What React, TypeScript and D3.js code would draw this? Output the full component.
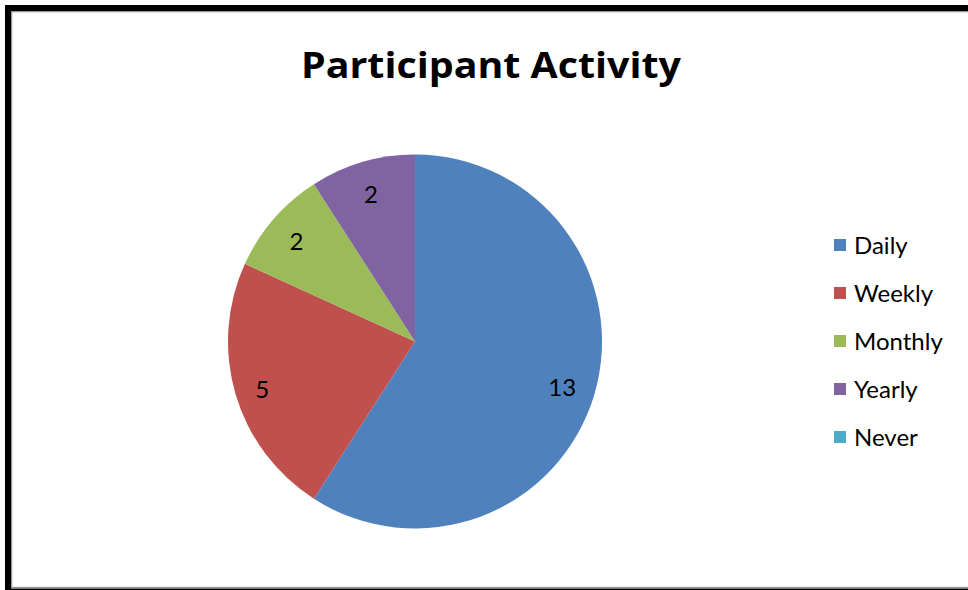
import React from "react";
import * as d3 from "d3";

const categories = ["Daily", "Weekly", "Monthly", "Yearly", "Never"];
const counts = [13, 5, 2, 2, 0];
const colors = ["#4F81BD", "#C0504D", "#9BBB59", "#8064A2", "#4BACC6"];
const title = "Participant Activity";

const W = 968;
const H = 590;
const FONT = "Lato, 'Noto Sans', sans-serif";

export default function App() {
  const cx = 415;
  const cy = 341.5;
  const R = 187;
  const data = categories.map((c, i) => ({ name: c, value: counts[i], color: colors[i] }));
  const pie = d3.pie<any>().sort(null).value((d: any) => d.value);
  const arcs = pie(data);
  const arcGen = d3.arc<any>().innerRadius(0).outerRadius(R);

  const labelFont = 24;
  const L = R - 19;

  const legendY = d3.scalePoint<string>().domain(categories).range([245, 437]);

  return (
    <svg
      width={W}
      height={H}
      style={{ position: "absolute", left: 0, top: 0, background: "#fff" }}
      fontFamily={FONT}
    >
      <rect x={0} y={0} width={W} height={H} fill="#fff" />
      {/* frame */}
      <rect x={11} y={11} width={W - 11} height={1.3} fill="#9a9a9a" />
      <rect x={11} y={11} width={1.3} height={577} fill="#9a9a9a" />
      <rect x={11} y={586.8} width={W - 11} height={1.8} fill="#9a9a9a" />
      <rect x={5} y={5} width={W - 5} height={6} fill="#000" />
      <rect x={5} y={5} width={6} height={H - 5} fill="#000" />
      <rect x={11} y={588.6} width={W - 11} height={1.4} fill="#000" />

      <text
        x={491}
        y={78}
        textAnchor="middle"
        fontSize={36}
        fontWeight="bold"
        fontFamily="'Open Sans', 'Noto Sans', sans-serif"
        fill="#000"
        textLength={380}
        lengthAdjust="spacingAndGlyphs"
      >
        {title}
      </text>

      <g transform={`translate(${cx},${cy})`}>
        {arcs.map((a, i) =>
          a.data.value > 0 ? <path key={i} d={arcGen(a) as string} fill={a.data.color} /> : null
        )}
        {arcs.map((a, i) => {
          if (a.data.value <= 0) return null;
          const mid = (a.startAngle + a.endAngle) / 2;
          const sx = Math.sin(mid);
          const sy = -Math.cos(mid);
          const txt = String(a.data.value);
          const hw = (txt.length * 22 * 0.55) / 2;
          const hh = 10;
          const b = Math.abs(sx) * hw + Math.abs(sy) * hh;
          const d = -b + Math.sqrt(b * b - (hw * hw + hh * hh) + L * L);
          return (
            <text
              key={"l" + i}
              x={d * sx}
              y={d * sy + 3}
              textAnchor="middle"
              dy="0.36em"
              fontSize={labelFont}
              fill="#000"
            >
              {txt}
            </text>
          );
        })}
      </g>

      <g>
        {categories.map((c, i) => {
          const y = legendY(c) as number;
          return (
            <g key={c}>
              <rect x={834} y={y - 6} width={12} height={12} fill={colors[i]} />
              <text x={854} y={y} dy="0.36em" fontSize={24} fill="#000">
                {c}
              </text>
            </g>
          );
        })}
      </g>
    </svg>
  );
}
